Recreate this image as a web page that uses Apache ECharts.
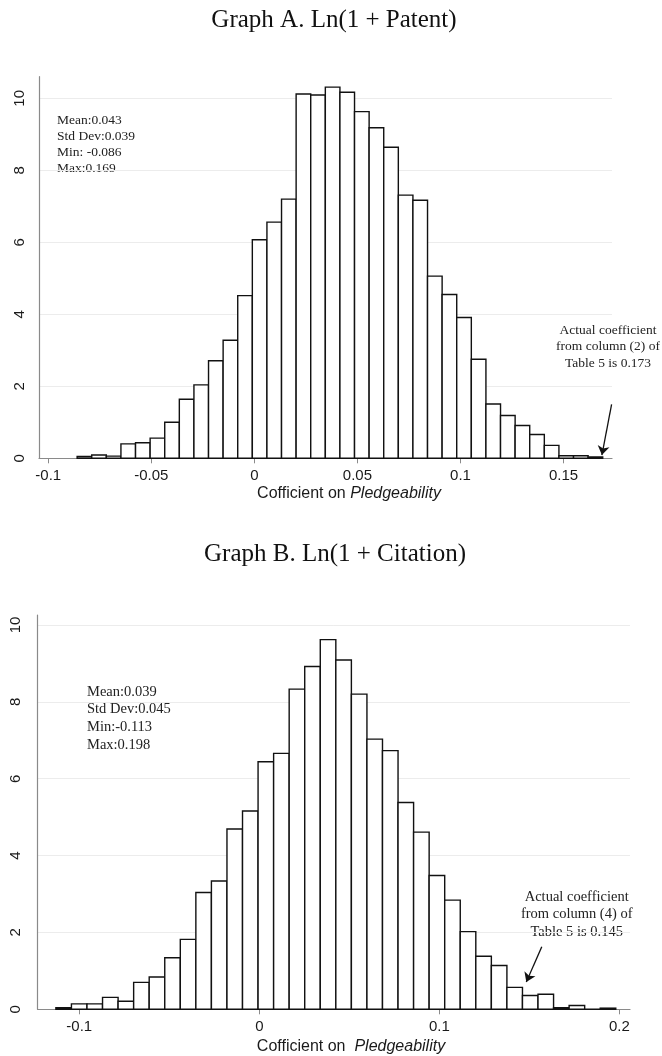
<!DOCTYPE html>
<html>
<head>
<meta charset="utf-8">
<script src="https://cdn.jsdelivr.net/npm/echarts@6/dist/echarts.min.js"></script>
<style>
  html, body { margin: 0; padding: 0; background: #fff; }
  #chart { width: 662px; height: 1056px; }
</style>
</head>
<body>
<div id="chart"></div>
<script>
// Graph A: Ln(1 + Patent) -- 36 bins from min to max
const patentMin = -0.086;
const patentMax = 0.169;
const patentDensity = [
  0.05, 0.09, 0.06, 0.40, 0.43, 0.56, 1.00, 1.64, 2.04, 2.71, 3.28, 4.52,
  6.07, 6.56, 7.20, 10.12, 10.09, 10.31, 10.17, 9.63, 9.18, 8.64, 7.31, 7.17,
  5.06, 4.55, 3.91, 2.75, 1.51, 1.19, 0.91, 0.66, 0.36, 0.07, 0.07, 0.04
];
// Graph B: Ln(1 + Citation)
const citationMin = -0.113;
const citationMax = 0.198;
const citationDensity = [
  0.04, 0.14, 0.14, 0.31, 0.21, 0.70, 0.84, 1.34, 1.82, 3.04, 3.34, 4.69,
  5.16, 6.44, 6.66, 8.33, 8.92, 9.62, 9.09, 8.20, 7.03, 6.73, 5.38, 4.61,
  3.48, 2.84, 2.02, 1.38, 1.14, 0.57, 0.36, 0.39, 0.04, 0.10, 0, 0.03
];
const patentTicks = [-0.1, -0.05, 0, 0.05, 0.1, 0.15];
const citationTicks = [-0.1, 0, 0.1, 0.2];
const densityTicks = [0, 2, 4, 6, 8, 10];

const patentStats = ["Mean:0.043", "Std Dev:0.039", "Min: -0.086", "Max:0.169"];
const citationStats = ["Mean:0.039", "Std Dev:0.045", "Min:-0.113", "Max:0.198"];
const patentNote = ["Actual coefficient", "from column (2) of", "Table 5 is 0.173"];
const citationNote = ["Actual coefficient", "from column (4) of", "Table 5 is 0.145"];

function toBins(min, max, heights) {
  const w = (max - min) / heights.length;
  return heights.map((h, i) => [min + i * w, min + (i + 1) * w, h]);
}

const serif = "Liberation Serif";
const sans = "Liberation Sans";
const axisGray = "#8a8a8a";

function renderBar(params, api) {
  const p0 = api.coord([api.value(0), 0]);
  const p1 = api.coord([api.value(1), api.value(2)]);
  return {
    type: "rect",
    shape: { x: p0[0], y: p1[1], width: p1[0] - p0[0], height: p0[1] - p1[1] },
    style: { fill: "#fff", stroke: "#111", lineWidth: 1.4 }
  };
}

function xAxisOf(gridIndex, min, max, ticks) {
  return {
    type: "value",
    gridIndex: gridIndex,
    min: min,
    max: max,
    axisLine: { show: true, onZero: false, lineStyle: { color: axisGray, width: 1.2 } },
    axisTick: { show: true, length: 5, customValues: ticks, lineStyle: { color: axisGray } },
    axisLabel: {
      customValues: ticks,
      margin: 10,
      fontFamily: sans,
      fontSize: 15,
      color: "#1a1a1a",
      formatter: v => String(v)
    },
    splitLine: { show: false }
  };
}

function yAxisOf(gridIndex, max, margin) {
  return {
    type: "value",
    gridIndex: gridIndex,
    min: 0,
    max: max,
    interval: 2,
    axisLine: { show: true, onZero: false, lineStyle: { color: axisGray, width: 1.2 } },
    axisTick: { show: false },
    axisLabel: {
      customValues: densityTicks,
      rotate: 90,
      margin: margin,
      fontFamily: sans,
      fontSize: 15,
      color: "#1a1a1a"
    },
    splitLine: { show: true, showMaxLine: false, lineStyle: { color: "#ececec", width: 1 } }
  };
}

function arrow(from, to) {
  return {
    silent: true,
    symbol: ["none", "arrow"],
    symbolSize: 9,
    label: { show: false },
    lineStyle: { color: "#111", width: 1.3, type: "solid" },
    data: [[{ coord: from }, { coord: to }]]
  };
}

const chart = echarts.init(document.getElementById("chart"));
chart.setOption({
  animation: false,
  backgroundColor: "#fff",
  grid: [
    { left: 39, right: 50, top: 76.7, height: 381.6 },
    { left: 37.7, right: 32, top: 615, height: 394.3 }
  ],
  xAxis: [
    xAxisOf(0, -0.1045, 0.1735, patentTicks),
    xAxisOf(1, -0.1231, 0.2059, citationTicks)
  ],
  yAxis: [
    yAxisOf(0, 10.6, 12),
    yAxisOf(1, 10.26, 14)
  ],
  series: [
    {
      type: "custom",
      xAxisIndex: 0,
      yAxisIndex: 0,
      renderItem: renderBar,
      encode: { x: [0, 1], y: 2 },
      data: toBins(patentMin, patentMax, patentDensity),
      markLine: arrow([0.1733, 1.5], [0.1686, 0.09])
    },
    {
      type: "custom",
      xAxisIndex: 1,
      yAxisIndex: 1,
      renderItem: renderBar,
      encode: { x: [0, 1], y: 2 },
      data: toBins(citationMin, citationMax, citationDensity),
      markLine: arrow([0.1569, 1.63], [0.1483, 0.71])
    }
  ],
  graphic: [
    {
      type: "text", x: 334, y: 8,
      style: { text: "Graph A. Ln(1 + Patent)", font: "25px " + serif, fill: "#111", align: "center" }
    },
    {
      type: "text", x: 335, y: 542,
      style: { text: "Graph B. Ln(1 + Citation)", font: "25px " + serif, fill: "#111", align: "center" }
    },
    {
      type: "text", x: 57, y: 112.7,
      style: { text: patentStats.join("\n"), font: "13.5px " + serif, lineHeight: 16, fill: "#222" }
    },
    {
      type: "text", x: 87, y: 683,
      style: { text: citationStats.join("\n"), font: "14.5px " + serif, lineHeight: 17.7, fill: "#222" }
    },
    {
      type: "text", x: 608, y: 322.5,
      style: { text: patentNote.join("\n"), font: "13.5px " + serif, lineHeight: 16.3, fill: "#222", align: "center" }
    },
    {
      type: "text", x: 576.7, y: 888,
      style: { text: citationNote.join("\n"), font: "14.5px " + serif, lineHeight: 17.5, fill: "#222", align: "center" }
    },
    {
      type: "text", x: 349, y: 494,
      style: {
        text: "{n|Cofficient on }{i|Pledgeability}",
        align: "center", verticalAlign: "middle",
        rich: {
          n: { fontFamily: sans, fontSize: 16, fill: "#1a1a1a" },
          i: { fontFamily: sans, fontSize: 16, fontStyle: "italic", fill: "#1a1a1a" }
        }
      }
    },
    {
      type: "text", x: 351, y: 1046.5,
      style: {
        text: "{n|Cofficient on  }{i|Pledgeability}",
        align: "center", verticalAlign: "middle",
        rich: {
          n: { fontFamily: sans, fontSize: 16, fill: "#1a1a1a" },
          i: { fontFamily: sans, fontSize: 16, fontStyle: "italic", fill: "#1a1a1a" }
        }
      }
    }
  ]
});
</script>
</body>
</html>
